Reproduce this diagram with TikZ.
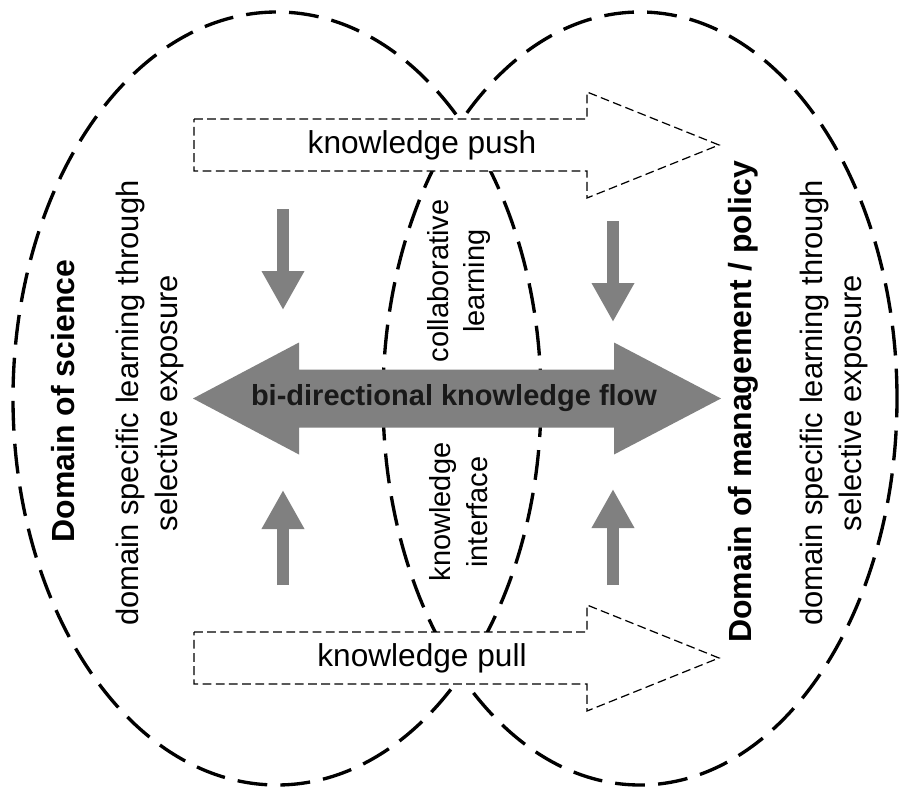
\documentclass[tikz,border=0pt]{standalone}
\usepackage{fontspec}
\setmainfont{Liberation Sans}
\usetikzlibrary{arrows.meta}
\definecolor{flowgray}{RGB}{128,128,128}
\tikzset{
  domain line/.style={line width=1.9pt,dash pattern=on 17pt off 7.5pt},
  block line/.style={line width=0.7pt,dash pattern=on 5pt off 2.5pt,fill=white},
  side text/.style={rotate=90,align=center,font=\fontsize{17.6}{22}\selectfont},
  title text/.style={rotate=90,font=\bfseries\fontsize{18.2}{22}\selectfont},
  lens text/.style={rotate=90,align=center,font=\fontsize{16.5}{21}\selectfont},
  push arrow/.style={line width=0.24cm,flowgray,-{Triangle[width=0.8cm,length=0.78cm]}}
}
\begin{document}
\begin{tikzpicture}
\path[use as bounding box,fill=white] (0,0) rectangle (18,-15.76);
% draw the two domains, their overlap is the interface
\draw[domain line] (5.54,-7.97) ellipse (5.28 and 7.73);
\draw[domain line] (12.8,-7.97) ellipse (5.14 and 7.73);
% draw push / pull block arrows
\def\bs{0.52};
\def\bh{1.06};
\foreach \y/\name in {-2.9/push,-13.16/pull}{
  \draw[block line] (3.88,\y+\bs) -- (11.74,\y+\bs) -- (11.74,\y+\bh) -- (14.38,\y)
    -- (11.74,\y-\bh) -- (11.74,\y-\bs) -- (3.88,\y-\bs) -- cycle;
  \node[font=\fontsize{18}{22}\selectfont] (k\name) at (8.44,\y) {knowledge \name};
}
% draw bi-directional flow
\fill[flowgray] (3.86,-7.97) -- (5.98,-6.85) -- (5.98,-7.39) -- (12.28,-7.39) -- (12.28,-6.85)
  -- (14.42,-7.97) -- (12.28,-9.09) -- (12.28,-8.55) -- (5.98,-8.55) -- (5.98,-9.09) -- cycle;
\node[font=\bfseries\fontsize{16.5}{20}\selectfont,text=black!90] (flow) at (9.08,-7.97) {bi-directional knowledge flow};
% draw small arrows onto the flow
\draw[push arrow] (5.66,-4.18) -- (5.66,-6.2);
\draw[push arrow] (12.26,-4.42) -- (12.26,-6.44);
\draw[push arrow] (5.66,-11.7) -- (5.66,-9.8);
\draw[push arrow] (12.26,-11.7) -- (12.26,-9.78);
% labels
\node[title text] (science) at (1.26,-8.02) {Domain of science};
\node[side text] (scilearn) at (3.0,-8.06) {domain specific learning through\\selective exposure};
\node[title text] (policy) at (14.86,-8.04) {Domain of management / policy};
\node[side text] (pollearn) at (16.68,-8.06) {domain specific learning through\\selective exposure};
\node[lens text] (collab) at (9.18,-5.62) {collaborative\\learning};
\node[lens text] (interface) at (9.18,-10.24) {knowledge\\interface};
\end{tikzpicture}
\end{document}
